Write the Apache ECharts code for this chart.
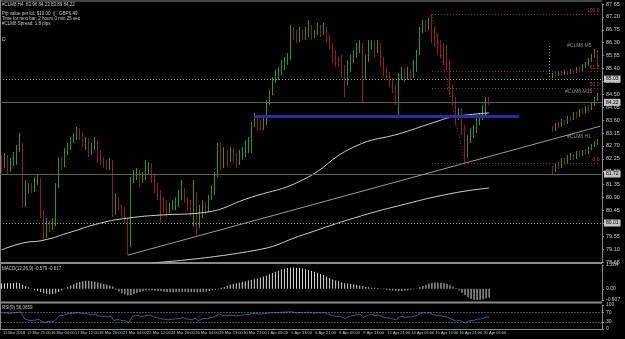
<!DOCTYPE html>
<html>
<head>
<meta charset="utf-8">
<script src="https://cdn.jsdelivr.net/npm/echarts/dist/echarts.min.js"></script>
<style>
html,body{margin:0;padding:0;background:#000;}
#chart{width:625px;height:339px;}
</style>
</head>
<body>
<div id="chart"></div>
<script>
// #CLM8 H4 bars (open of each bar = previous close)
const firstOpen = 82.21;
const closes = [
  82.03,82.28,81.86,82.14,82.21,82.56,82.73,80.64,81.23,81.34,
  81.16,81.40,81.51,80.36,79.59,80.04,79.83,79.94,81.34,82.21,
  82.03,82.56,82.73,82.90,83.01,83.25,83.01,82.80,82.90,82.45,
  82.63,82.83,82.21,82.14,82.03,81.93,82.10,80.36,80.81,80.53,
  80.29,80.11,79.24,81.51,81.68,81.79,81.51,81.65,81.93,82.03,
  81.58,81.34,80.99,80.81,80.64,80.46,80.57,80.71,80.81,80.88,
  81.16,80.81,80.64,80.46,80.99,79.94,80.29,80.64,80.46,80.88,
  81.16,81.68,82.73,82.03,82.49,82.21,82.56,82.28,82.10,82.38,
  82.49,82.73,82.83,83.43,83.67,83.43,83.32,83.53,84.20,84.58,
  85.00,85.17,85.28,85.52,85.63,85.77,86.74,86.57,86.39,86.67,
  86.46,86.74,86.81,86.53,86.64,86.85,86.67,86.78,86.46,86.22,
  85.77,85.63,85.59,85.28,84.93,85.35,85.70,85.87,86.12,86.22,
  85.17,85.70,86.22,86.32,86.05,86.22,85.70,85.28,85.14,84.93,
  84.65,84.30,85.14,85.35,85.07,85.28,85.17,85.52,85.87,86.74,
  86.92,86.81,87.02,86.39,86.22,85.98,85.87,85.63,85.42,84.72,
  84.30,83.67,83.88,83.32,82.38,82.90,83.08,83.25,83.60,83.67,
  83.88,84.30,84.23
];
const lows = [
  81.79,81.93,81.68,81.79,82.00,82.03,82.49,80.57,80.57,81.05,
  81.05,81.09,81.34,80.18,79.41,79.48,79.69,79.76,79.90,81.23,
  81.86,81.96,82.38,82.56,82.80,82.90,82.90,82.66,82.56,82.31,
  82.38,82.56,82.10,82.03,81.93,81.86,81.86,80.22,80.29,80.46,
  80.22,80.01,78.89,79.17,81.40,81.51,81.26,81.40,81.51,81.68,
  81.40,81.05,80.81,80.01,80.36,80.22,80.36,80.46,80.46,80.57,
  80.81,80.71,80.46,80.22,79.87,79.59,79.83,80.18,80.29,80.39,
  80.81,80.98,81.61,81.86,81.93,81.96,82.14,82.10,81.96,82.03,
  82.21,82.31,82.45,82.45,83.36,83.25,83.25,83.25,83.43,84.13,
  84.47,84.89,85.00,85.17,85.35,85.52,85.70,86.39,86.29,86.32,
  86.39,86.39,86.50,86.39,86.46,86.57,86.50,86.57,86.32,86.05,
  85.59,85.45,85.45,85.10,84.40,84.82,85.28,85.59,85.77,85.94,
  84.20,85.00,85.63,86.05,85.80,85.94,85.45,85.10,85.00,84.75,
  84.54,84.13,83.78,85.00,84.93,85.00,85.00,85.07,85.28,85.87,
  86.64,86.67,86.74,86.29,86.15,85.87,85.77,85.52,85.35,84.47,
  84.13,83.43,83.60,83.08,82.10,82.28,82.80,82.97,83.15,83.43,
  83.60,83.78,84.13
];
const highs = [
  82.38,82.45,82.38,82.28,82.49,82.73,83.15,82.80,81.51,81.40,
  81.40,81.61,81.68,81.58,80.46,80.18,80.11,80.18,81.40,82.31,
  82.31,82.63,82.80,83.01,83.15,83.36,83.32,83.15,83.01,82.97,
  82.80,83.01,82.90,82.56,82.31,82.21,82.28,82.21,81.05,80.91,
  80.64,80.57,80.18,81.61,81.86,81.93,81.86,81.79,82.21,82.14,
  82.10,81.68,81.40,81.16,80.91,80.81,80.71,80.81,80.91,81.16,
  81.51,81.23,80.91,80.81,81.51,81.09,80.64,80.81,80.74,80.98,
  81.33,81.79,82.80,82.80,82.66,82.56,82.66,82.63,82.45,82.56,
  82.66,82.90,83.01,83.53,83.85,83.78,83.60,83.71,84.30,84.65,
  85.10,85.35,85.45,85.70,85.80,85.94,86.92,86.85,86.74,86.85,
  86.74,86.85,87.09,86.92,86.74,86.99,86.92,86.99,86.85,86.57,
  86.29,86.05,85.80,85.87,85.52,85.70,85.87,86.05,86.29,86.39,
  86.29,85.87,86.39,86.39,86.39,86.39,86.29,85.80,85.45,85.28,
  85.07,84.82,85.24,85.45,85.42,85.45,85.35,85.70,86.05,86.85,
  87.09,87.09,87.16,87.30,86.85,86.64,86.39,86.29,86.22,85.70,
  84.82,84.40,84.02,84.02,83.43,83.08,83.32,83.43,83.78,83.85,
  84.13,84.40,84.40
];

// MACD(12,26,9) histogram
const macdHist = [
  0.28,0.29,0.30,0.30,0.31,0.32,0.30,
  0.22,0.15,0.08,
  -0.02,-0.08,-0.13,-0.18,-0.24,-0.28,-0.31,-0.30,-0.25,-0.18,-0.10,
  0.02,0.10,0.18,0.25,0.32,0.37,0.41,0.43,0.43,0.41,0.38,0.34,0.30,0.26,0.22,0.18,0.12,
  -0.05,-0.15,-0.24,-0.30,-0.36,-0.34,-0.28,
  -0.22,-0.18,-0.14,-0.10,-0.08,-0.08,-0.10,-0.12,-0.14,-0.16,-0.18,-0.19,-0.19,-0.18,
  -0.17,-0.16,-0.16,-0.17,-0.18,-0.18,-0.19,-0.19,-0.17,-0.15,-0.12,-0.08,-0.05,-0.02,
  0.05,0.10,0.16,0.22,0.26,0.30,0.34,0.38,0.40,0.44,0.48,0.52,0.56,0.60,0.66,0.72,
  0.78,0.85,0.92,0.98,1.04,1.08,1.12,1.14,1.15,1.14,1.12,1.10,1.06,1.02,0.97,0.92,
  0.86,0.80,0.74,0.66,0.58,0.50,0.44,0.40,0.35,0.30,0.28,0.26,0.24,0.22,0.18,0.14,
  0.10,0.08,0.06,0.05,0.04,0.02,-0.02,-0.05,-0.08,-0.10,-0.11,-0.12,-0.12,-0.10,-0.08,-0.05,-0.02,0.02,
  0.08,0.15,0.22,0.28,0.32,0.34,0.34,0.32,0.30,0.26,0.20,0.12,0.04,
  -0.10,-0.22,-0.34,-0.46,-0.55,-0.60,-0.61,-0.60,-0.56,-0.52,-0.47
];

// RSI(9)
const rsiValues = [
  66,68,65,67,68,70,71, 45,38,36,
  36,38,40,30,26,32,30,31,
  45,58,56,62,64,66,67,69,
  66,63,65,58,60,62,54,53,52,50,53,
  34,40,37,35,33,26,
  52,55,56,52,54,57,58,52,48,44,
  42,40,38,40,42,43,44,48,43,40,38,45,35,
  40,44,42,47,50,55,63,
  55,57,56,58,56,55,57,58,60,61,64,66,63,62,64,66,67,68,68,69,70,70,71,
  72,69,67,69,67,69,70,66,67,69,67,68,63,60,55,53,53,
  49,44,50,54,57,60,61,48,
  54,59,60,56,58,52,48,47,45,42,38,
  50,52,48,51,50,54,57,
  66,68,66,69,60,58,55,54,52,50,
  43,38,33,36,31,25,
  33,35,37,41,42,45,50,49
];

// time labels, one every 8 bars
const tickLabels = [
  '11 Mar 2018','12 Mar 21:00','16 Mar 04:00','17 Mar 12:00','18 Mar 20:00',
  '21 Mar 04:00','22 Mar 12:00','24 Mar 20:00','26 Mar 04:00','29 Mar 13:00',
  '30 Mar 21:00','1 Apr 05:00','5 Apr 13:00','6 Apr 21:00','8 Apr 05:00',
  '9 Apr 13:00','12 Apr 21:00','14 Apr 05:00','15 Apr 13:00','16 Apr 21:00',
  '20 Apr 05:00'
];

// moving averages, read at a few bars
const maFastBars = [0, 7, 14, 22, 33, 42, 53, 66, 83, 100, 117, 133, 144, 150, 162];
const maFastVals = [79.07, 79.31, 79.41, 79.66, 80.01, 80.18, 80.29, 80.36, 80.91, 81.51, 82.66, 83.15, 83.53, 83.71, 83.85];
const maSlowBars = [50, 85, 100, 117, 133, 150, 162];
const maSlowVals = [78.62, 79.07, 79.59, 80.18, 80.64, 81.05, 81.23];

// drawn objects
const trendTop = [[0, 86.29], [199, 87.69]];
const trendLow = [[42, 78.89], [199, 83.39]];
const blueZone = [84, 172, 83.74];
const dottedLevels = [85.03, 80.01];
const solidLevels = [84.22, 81.72];
const fibFrom = [143, 87.30];
const fibTo = [154, 82.10];
const fibLevels = [100.0, 61.8, 50.0, 0.0];

// small panels of the other time frames
const m5Open  = [84.02,84.04,84.03,84.05,84.04,84.06,84.05,84.07,84.06,84.09,84.08,84.12,84.14,84.18,84.22,84.27];
const m5Close = [84.04,84.03,84.05,84.04,84.06,84.05,84.07,84.06,84.09,84.08,84.12,84.14,84.18,84.22,84.27,84.18];
const m5Low   = [84.00,84.01,84.02,84.02,84.03,84.03,84.04,84.04,84.05,84.06,84.07,84.10,84.12,84.16,84.20,84.13];
const m5High  = [84.05,84.06,84.07,84.06,84.08,84.07,84.09,84.08,84.11,84.11,84.14,84.16,84.20,84.24,84.29,84.28];
const m15Open  = [83.04,83.02,83.07,83.06,83.11,83.09,83.14,83.13,83.18,83.16,83.21,83.20,83.24,83.23,83.28,83.32];
const m15Close = [83.02,83.07,83.06,83.11,83.09,83.14,83.13,83.18,83.16,83.21,83.20,83.24,83.23,83.28,83.32,83.36];
const m15Low   = [83.00,83.01,83.04,83.05,83.07,83.08,83.11,83.12,83.14,83.15,83.18,83.19,83.21,83.22,83.26,83.31];
const m15High  = [83.06,83.09,83.10,83.13,83.12,83.16,83.16,83.20,83.20,83.23,83.24,83.26,83.27,83.30,83.35,83.39];
const h1Open  = [82.06,82.03,82.09,82.07,82.14,82.12,82.17,82.18,82.16,82.21,82.19,82.22,82.21,82.25,82.28,82.31];
const h1Close = [82.03,82.09,82.07,82.14,82.12,82.17,82.18,82.16,82.21,82.19,82.22,82.21,82.25,82.28,82.31,82.33];
const h1Low   = [82.00,82.02,82.05,82.06,82.10,82.11,82.14,82.14,82.15,82.17,82.18,82.19,82.20,82.24,82.27,82.29];
const h1High  = [82.08,82.11,82.12,82.16,82.16,82.19,82.21,82.20,82.23,82.23,82.24,82.25,82.27,82.30,82.33,82.35];

const BULL = '#269626', BEAR = '#8e1f1f', AXIS = '#8a8a8a', TXT = '#c8c8c8';
const FONT = 'Liberation Sans';
const SLOTS = 200; // bars + empty space up to the price scale

const opens = closes.map((c, i) => i === 0 ? firstOpen : closes[i - 1]);
const candles = closes.map((c, i) => [opens[i], c, Math.min(lows[i], opens[i], c), Math.max(highs[i], opens[i], c)]);
const cats = Array.from({ length: SLOTS }, (_, i) => String(i));

const sparse = (bars, vals) => {
  const a = closes.map(() => null);
  bars.forEach((b, k) => { a[b] = vals[k]; });
  return a;
};
const ohlc = (o, c, l, h) => o.map((v, i) => [v, c[i], l[i], h[i]]);

const dotted = (color) => ({ color, width: 1, type: [1, 2] });
// price box on the scale, like the terminal draws for a horizontal line
const priceBox = { show: true, position: 'end', distance: 2, formatter: p => p.value.toFixed(2),
  color: '#000', backgroundColor: '#c4c4c4', fontSize: 5, fontFamily: FONT, padding: [1, 2] };
const fibLines = fibLevels.map(lv => {
  const v = +(fibTo[1] + (fibFrom[1] - fibTo[1]) * lv / 100).toFixed(2);
  return [
    { coord: [fibFrom[0], v], lineStyle: dotted('#a02c2c'),
      label: { show: true, formatter: lv.toFixed(1), position: 'insideEndTop', color: '#c04040', fontSize: 5, fontFamily: FONT, distance: 1 } },
    { coord: [SLOTS - 1, v] }
  ];
});

const miniGrid = (top, h) => ({ left: 551, width: 48, top, height: h });
const miniSeries = (idx, data) => ({
  type: 'candlestick', xAxisIndex: idx, yAxisIndex: idx, data, barWidth: 1,
  itemStyle: { color: BULL, color0: BEAR, borderColor: BULL, borderColor0: BEAR, borderWidth: 1 }
});

const option = {
  backgroundColor: '#000',
  animation: false,
  grid: [
    { left: 0, right: 23, top: 4, height: 258 },
    { left: 0, right: 23, top: 265, height: 35 },
    { left: 0, right: 23, top: 305, height: 24 },
    miniGrid(46, 32),
    miniGrid(93, 39),
    miniGrid(138, 36)
  ],
  xAxis: [
    { type: 'category', gridIndex: 0, data: cats, show: false },
    { type: 'category', gridIndex: 1, data: cats, show: false },
    { type: 'category', gridIndex: 2, data: cats,
      axisLine: { lineStyle: { color: AXIS } },
      axisTick: { interval: 7, length: 2, lineStyle: { color: AXIS } },
      axisLabel: {
        interval: 7, color: TXT, fontSize: 4, fontFamily: FONT, align: 'left', margin: 2,
        showMinLabel: true, hideOverlap: false,
        formatter: (v, i) => tickLabels[i / 8] || ''
      }
    },
    { type: 'category', gridIndex: 3, data: m5Open.map((_, i) => i), show: false },
    { type: 'category', gridIndex: 4, data: m15Open.map((_, i) => i), show: false },
    { type: 'category', gridIndex: 5, data: h1Open.map((_, i) => i), show: false }
  ],
  yAxis: [
    { type: 'value', gridIndex: 0, position: 'right', min: 78.65, max: 87.65, interval: 0.45,
      axisLine: { show: true, lineStyle: { color: AXIS } },
      axisTick: { show: true, length: 2, lineStyle: { color: AXIS } },
      axisLabel: { color: TXT, fontSize: 5.5, fontFamily: FONT, margin: 4, formatter: v => v.toFixed(2) },
      splitLine: { show: false } },
    { type: 'value', gridIndex: 1, position: 'right', min: -0.607, max: 1.284,
      axisLine: { show: true, lineStyle: { color: AXIS } },
      axisTick: { show: true, length: 2, customValues: [-0.607, 0, 1.284], lineStyle: { color: AXIS } },
      axisLabel: { color: TXT, fontSize: 5, fontFamily: FONT, margin: 4, customValues: [-0.607, 0, 1.284],
        formatter: v => v === 0 ? '0.00' : v.toFixed(3) },
      splitLine: { show: false } },
    { type: 'value', gridIndex: 2, position: 'right', min: 0, max: 100,
      axisLine: { show: true, lineStyle: { color: AXIS } },
      axisTick: { show: true, length: 2, customValues: [0, 30, 70, 100], lineStyle: { color: AXIS } },
      axisLabel: { color: TXT, fontSize: 5, fontFamily: FONT, margin: 4, customValues: [0, 30, 70, 100] },
      splitLine: { show: false } },
    { type: 'value', gridIndex: 3, min: 84.00, max: 84.32, show: false },
    { type: 'value', gridIndex: 4, min: 83.00, max: 83.39, show: false },
    { type: 'value', gridIndex: 5, min: 82.00, max: 82.36, show: false }
  ],
  series: [
    {
      type: 'candlestick', xAxisIndex: 0, yAxisIndex: 0, data: candles, barWidth: 1,
      itemStyle: { color: BULL, color0: BEAR, borderColor: BULL, borderColor0: BEAR, borderWidth: 1 },
      markLine: {
        silent: true, symbol: ['none', 'none'], animation: false,
        label: { show: false },
        data: [
          ...dottedLevels.map(v => ({ yAxis: v, lineStyle: dotted('#a0a0a0'), label: priceBox })),
          ...solidLevels.map(v => ({ yAxis: v, lineStyle: { color: '#5e5e5e', width: 1, type: 'solid' }, label: priceBox })),
          [{ coord: trendTop[0], lineStyle: { color: '#b0b0b0', width: 1, type: 'solid' } }, { coord: trendTop[1] }],
          [{ coord: trendLow[0], lineStyle: { color: '#9a9a9a', width: 1, type: 'solid' } }, { coord: trendLow[1] }],
          [{ coord: [blueZone[0], blueZone[2]], lineStyle: { color: '#2b2ba8', width: 3, type: 'solid' } }, { coord: [blueZone[1], blueZone[2]] }],
          [{ coord: fibFrom, lineStyle: dotted('#a02c2c') }, { coord: fibTo }],
          ...fibLines
        ]
      }
    },
    { type: 'line', xAxisIndex: 0, yAxisIndex: 0, data: sparse(maFastBars, maFastVals), connectNulls: true, smooth: true,
      showSymbol: false, lineStyle: { color: '#d0d0d0', width: 1 } },
    { type: 'line', xAxisIndex: 0, yAxisIndex: 0, data: sparse(maSlowBars, maSlowVals), connectNulls: true, smooth: true,
      showSymbol: false, lineStyle: { color: '#d0d0d0', width: 1 } },
    { type: 'bar', xAxisIndex: 1, yAxisIndex: 1, data: macdHist, barWidth: 1, itemStyle: { color: '#d8d8d8' } },
    { type: 'line', xAxisIndex: 2, yAxisIndex: 2, data: rsiValues, showSymbol: false,
      lineStyle: { color: '#3c5c9c', width: 1 },
      markLine: { silent: true, symbol: ['none', 'none'], label: { show: false },
        data: [{ yAxis: 70 }, { yAxis: 30 }], lineStyle: dotted('#9a9a9a') } },
    miniSeries(3, ohlc(m5Open, m5Close, m5Low, m5High)),
    miniSeries(4, ohlc(m15Open, m15Close, m15Low, m15High)),
    miniSeries(5, ohlc(h1Open, h1Close, h1Low, h1High))
  ],
  graphic: [
    { type: 'line', shape: { x1: 0, y1: 1, x2: 602, y2: 1 }, style: { stroke: AXIS, lineWidth: 1 } },
    { type: 'line', shape: { x1: 0.5, y1: 0, x2: 0.5, y2: 330 }, style: { stroke: AXIS, lineWidth: 1 } },
    { type: 'line', shape: { x1: 0, y1: 263, x2: 602, y2: 263 }, style: { stroke: AXIS, lineWidth: 2 } },
    { type: 'line', shape: { x1: 0, y1: 302.5, x2: 602, y2: 302.5 }, style: { stroke: AXIS, lineWidth: 2 } },
    { type: 'line', shape: { x1: 549.5, y1: 46, x2: 549.5, y2: 78 }, style: { stroke: '#9a9a9a', lineWidth: 1, lineDash: [1, 2] } },
    { type: 'text', left: 2, top: 2, style: { text: '#CLM8,H4  83.96 84.23 83.89 84.22', fill: TXT, font: '4.5px ' + FONT } },
    { type: 'text', left: 2, top: 11, style: { text: 'Pip value per lot: $10.00  ||   GBP6.49', fill: TXT, font: '4.5px ' + FONT } },
    { type: 'text', left: 2, top: 16.5, style: { text: 'Time for next bar: 2 hours 0 min 25 sec', fill: TXT, font: '4.5px ' + FONT } },
    { type: 'text', left: 2, top: 21.5, style: { text: '#CLM8 Spread: 1.8 pips', fill: TXT, font: '4.5px ' + FONT } },
    { type: 'text', left: 2, top: 37, style: { text: 'D', fill: TXT, font: '5px ' + FONT } },
    { type: 'text', left: 567, top: 43, style: { text: '#CLM8 M5', fill: '#909090', font: '5px ' + FONT } },
    { type: 'text', left: 565, top: 89, style: { text: '#CLM8 M15', fill: '#909090', font: '5px ' + FONT } },
    { type: 'text', left: 567, top: 134, style: { text: '#CLM8 H1', fill: '#909090', font: '5px ' + FONT } },
    { type: 'text', left: 2, top: 266, style: { text: 'MACD(12,26,9) -0.579 -0.617', fill: TXT, font: '4.5px ' + FONT } },
    { type: 'text', left: 2, top: 305, style: { text: 'RSI(9) 56.0659', fill: TXT, font: '4.5px ' + FONT } }
  ]
};

const myChart = echarts.init(document.getElementById('chart'));
myChart.setOption(option);
</script>
</body>
</html>
